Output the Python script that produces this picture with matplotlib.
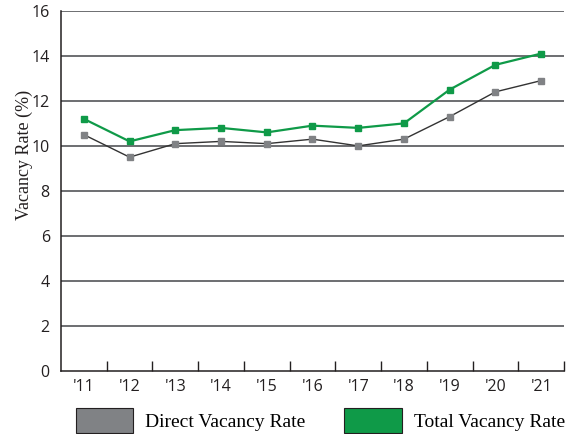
import matplotlib
matplotlib.use('Agg')
from matplotlib import pyplot as plt
from matplotlib.patches import Patch

years = ["'11", "'12", "'13", "'14", "'15", "'16", "'17", "'18", "'19", "'20", "'21"]
direct_rate = [10.5, 9.5, 10.1, 10.2, 10.1, 10.3, 10.0, 10.3, 11.3, 12.4, 12.9]
total_rate = [11.2, 10.2, 10.7, 10.8, 10.6, 10.9, 10.8, 11.0, 12.5, 13.6, 14.1]

gray = '#808285'
green = '#0f9a48'
sans = 'Open Sans'
serif = 'Liberation Serif'

fig = plt.figure(figsize=(5.72, 4.34), dpi=100)
ax = fig.add_axes([0.1066, 0.145, 0.8794, 0.8301])

x = list(range(len(years)))
ax.plot(x, direct_rate, color='#333333', lw=1.0, marker='s', ms=5,
        mfc=gray, mec=gray, zorder=3)
ax.plot(x, total_rate, color=green, lw=1.6, marker='s', ms=5,
        mfc=green, mec=green, zorder=4)

ax.set_xlim(-0.5, len(years) - 0.5)
ax.set_ylim(0, 16)
ax.set_yticks(range(0, 17, 2))
for v in range(2, 17, 2):
    ax.axhline(v, color='#6d6e71', lw=1.4, zorder=1)

# category labels centred, tick marks on the boundaries
ax.set_xticks(x)
ax.set_xticklabels(years, fontfamily=sans, fontsize=11.5, color='#231f20')
ax.tick_params(axis='x', which='major', length=0, pad=6)
ax.set_xticks([i + 0.5 for i in x], minor=True)
ax.tick_params(axis='x', which='minor', direction='in', length=7, width=1,
               color='#231f20')
ax.tick_params(axis='y', length=0, pad=8)
for t in ax.get_yticklabels():
    t.set_fontfamily(sans)
    t.set_fontsize(11.5)
    t.set_color('#231f20')

for s in ['top', 'right']:
    ax.spines[s].set_visible(False)
for s in ['left', 'bottom']:
    ax.spines[s].set_color('#231f20')
    ax.spines[s].set_linewidth(1.1)

ax.set_ylabel('Vacancy Rate (%)', fontfamily=serif, fontsize=13, color='#231f20')
ax.yaxis.set_label_coords(-0.056, 0.6)

handles = [Patch(facecolor=gray, edgecolor='#231f20', lw=0.8, label='Direct Vacancy Rate'),
           Patch(facecolor=green, edgecolor='#231f20', lw=0.8, label='Total Vacancy Rate')]
fig.legend(handles=handles, loc='lower left', bbox_to_anchor=(0.131, 0.0), ncol=2,
           frameon=False, prop={'family': serif, 'size': 14},
           handlelength=2.95, handleheight=1.6, handletextpad=0.62, columnspacing=2.0,
           borderaxespad=0, borderpad=0.05)

fig.savefig('out.png', dpi=100)
